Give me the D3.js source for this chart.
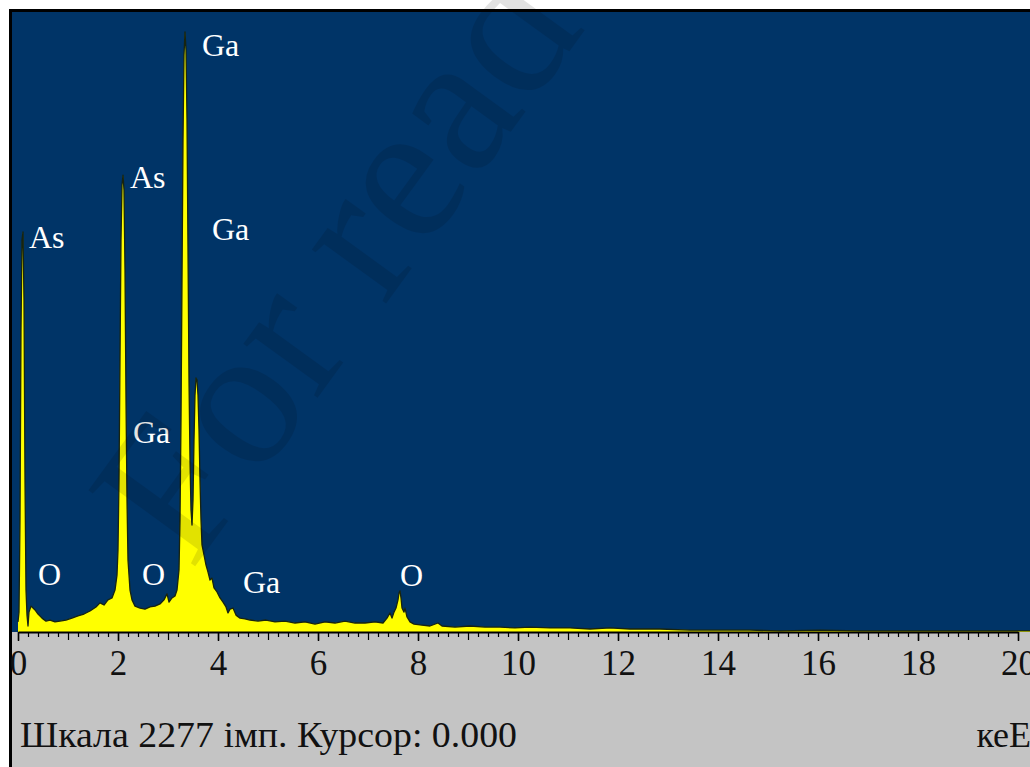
<!DOCTYPE html>
<html>
<head>
<meta charset="utf-8">
<script src="https://cdn.jsdelivr.net/npm/d3@7"></script>
<style>
  body { margin: 0; background: #fff; }
  svg { display: block; }
</style>
</head>
<body>
<svg width="1030" height="767"></svg>
<script>
// EDS spectrum: energy in keV, counts in imp.
const energy = [0.00, 0.02, 0.04, 0.06, 0.08, 0.10, 0.12, 0.14, 0.16, 0.18, 0.20, 0.22, 0.26, 0.30, 0.34, 0.40, 0.48, 0.56, 0.64, 0.74,
  0.84, 0.96, 1.08, 1.20, 1.32, 1.44, 1.56, 1.64, 1.72, 1.80, 1.88, 1.94, 1.98, 2.00, 2.02, 2.04, 2.06, 2.08, 2.10, 2.12,
  2.14, 2.16, 2.18, 2.20, 2.24, 2.28, 2.34, 2.44, 2.54, 2.64, 2.74, 2.84, 2.92, 2.98, 3.02, 3.08, 3.14, 3.18, 3.22, 3.24,
  3.26, 3.28, 3.30, 3.32, 3.34, 3.36, 3.38, 3.40, 3.42, 3.44, 3.46, 3.48, 3.50, 3.52, 3.54, 3.56, 3.58, 3.60, 3.62, 3.64,
  3.66, 3.68, 3.72, 3.76, 3.80, 3.84, 3.88, 3.92, 3.98, 4.04, 4.10, 4.16, 4.20, 4.24, 4.30, 4.36, 4.44, 4.54, 4.64, 4.80,
  4.96, 5.14, 5.34, 5.54, 5.74, 5.94, 6.14, 6.34, 6.54, 6.74, 6.94, 7.14, 7.30, 7.38, 7.44, 7.48, 7.52, 7.56, 7.60, 7.62,
  7.64, 7.66, 7.68, 7.72, 7.74, 7.78, 7.84, 7.92, 8.04, 8.24, 8.40, 8.48, 8.74, 9.04, 9.34, 9.64, 9.94, 10.24, 10.64, 11.04,
  11.44, 11.84, 12.24, 12.84, 13.44, 14.04, 14.64, 15.24, 16.04, 16.84, 17.64, 18.64, 20.00, 20.30];
const counts = [37, 73, 411, 1109, 1440, 1469, 1219, 558, 154, 62, 22, 73, 95, 88, 81, 66, 51, 40, 44, 37,
  40, 44, 51, 59, 66, 77, 92, 107, 99, 118, 125, 154, 209, 301, 558, 999, 1440, 1642, 1678, 1623,
  1330, 852, 485, 264, 154, 118, 95, 88, 84, 92, 95, 103, 118, 140, 110, 125, 132, 154, 228, 411,
  779, 1293, 1807, 2119, 2204, 2137, 1880, 1403, 925, 632, 448, 393, 485, 705, 870, 933, 925, 870, 742, 558,
  411, 320, 283, 246, 220, 191, 198, 162, 147, 125, 110, 92, 70, 84, 88, 62, 51, 48, 44, 40,
  44, 37, 40, 33, 37, 29, 37, 33, 40, 33, 33, 37, 33, 51, 70, 51, 73, 88, 118, 143,
  151, 125, 88, 73, 88, 55, 37, 29, 26, 22, 33, 22, 18, 22, 18, 18, 15, 18, 15, 15,
  11, 15, 11, 11, 7, 7, 7, 4, 7, 4, 4, 4, 4, 4];

const peakNames = ["Ga", "As", "As", "Ga", "Ga", "O", "O", "Ga", "O"];
const peakEnergy = [3.68, 2.24, 0.22, 3.88, 2.30, 0.40, 2.48, 4.50, 7.64];
const peakCounts = [2115, 1631, 1410, 1440, 694, 173, 173, 143, 169];

const tickKeV = [0, 2, 4, 6, 8, 10, 12, 14, 16, 18, 20];
const fullScale = 2277;
const statusText = "Шкала 2277 імп. Курсор: 0.000";
const unitText = "кеЕ";

const serif = "'Liberation Serif', Tinos, 'Times New Roman', Times, 'DejaVu Serif', 'Noto Serif', serif";

const svg = d3.select("svg").style("font-family", serif);

const x = d3.scaleLinear().domain([0, 20]).range([18, 1018]);
const y = d3.scaleLinear().domain([0, fullScale]).range([632, 12]);

// frame, plot area and status strip
svg.append("rect").attr("x", 9).attr("y", 9).attr("width", 1030).attr("height", 770).attr("fill", "#000");
svg.append("rect").attr("x", 12).attr("y", 12).attr("width", 1030).attr("height", 620).attr("fill", "#003467");
svg.append("rect").attr("x", 12).attr("y", 632).attr("width", 1030).attr("height", 140).attr("fill", "#c4c4c4");

const spectrum = energy.map((e, i) => ({ e, c: counts[i] }));

const area = d3.area()
  .x((d) => x(d.e))
  .y0(y(0))
  .y1((d) => y(d.c));

const line = d3.line()
  .x((d) => x(d.e))
  .y((d) => y(d.c));

svg.append("path")
  .datum(spectrum)
  .attr("d", area)
  .attr("fill", "#ffff00");

svg.append("path")
  .datum(spectrum)
  .attr("d", line)
  .attr("fill", "none")
  .attr("stroke", "#18240f")
  .attr("stroke-width", 1.3)
  .attr("stroke-linejoin", "round");

// peak labels
svg.append("g")
  .selectAll("text")
  .data(peakNames)
  .join("text")
  .attr("x", (d, i) => x(peakEnergy[i]))
  .attr("y", (d, i) => y(peakCounts[i]))
  .attr("fill", "#fff")
  .style("font-family", serif)
  .style("font-size", "32px")
  .text((d) => d);

// minor ticks every 0.2 keV, longer every 1 keV
const minor = d3.range(0, 101).map((i) => i / 5);
svg.append("g")
  .attr("transform", `translate(0, ${y(0)})`)
  .call(d3.axisBottom(x).tickValues(minor).tickSize(5).tickSizeOuter(0).tickFormat(""))
  .call((g) => g.selectAll("line").attr("stroke", "#000").attr("stroke-width", 1.2)
    .filter((d) => Math.abs(d - Math.round(d)) < 1e-6).attr("y2", 8))
  .call((g) => g.select(".domain").remove());

const xAxis = svg.append("g")
  .attr("transform", `translate(0, ${y(0)})`)
  .call(d3.axisBottom(x).tickValues(tickKeV).tickSize(9).tickSizeOuter(0).tickPadding(9));
xAxis.attr("font-family", null).attr("font-size", null);
xAxis.select(".domain").attr("stroke", "#000").attr("stroke-width", 2);
xAxis.selectAll("line").attr("stroke", "#000").attr("stroke-width", 1.5);
xAxis.selectAll("text")
  .attr("fill", "#111")
  .style("font-family", serif)
  .style("font-size", "35px");

// status line
svg.append("text")
  .attr("x", 20)
  .attr("y", 747)
  .attr("fill", "#111")
  .style("font-family", serif)
  .style("font-size", "36px")
  .attr("textLength", 497)
  .attr("lengthAdjust", "spacingAndGlyphs")
  .text(statusText);

svg.append("text")
  .attr("x", 1031)
  .attr("y", 747)
  .attr("text-anchor", "end")
  .attr("fill", "#111")
  .style("font-family", serif)
  .style("font-size", "36px")
  .text(unitText);

// faint watermark across the picture
svg.append("text")
  .attr("transform", "translate(191, 572) rotate(-54)")
  .attr("fill", "#000")
  .attr("opacity", 0.11)
  .style("font-family", serif)
  .style("font-size", "200px")
  .text("For read");
</script>
</body>
</html>
